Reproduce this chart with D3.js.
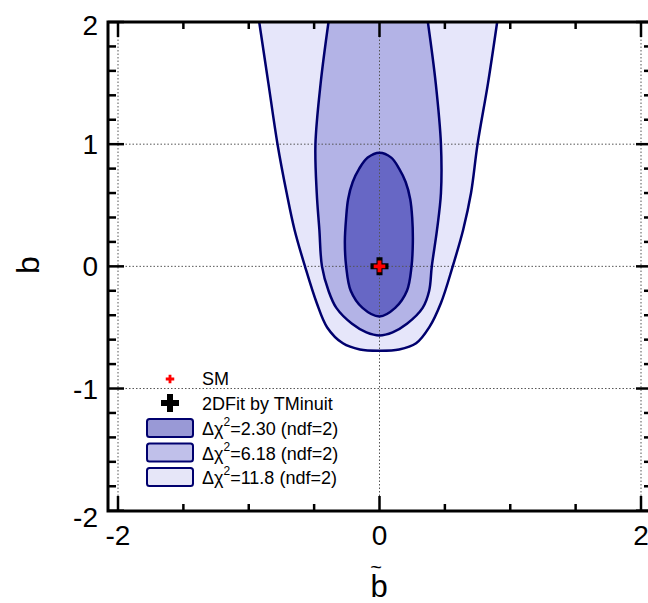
<!DOCTYPE html>
<html>
<head>
<meta charset="utf-8">
<script src="https://cdn.jsdelivr.net/npm/d3@7"></script>
<style>
  body { margin: 0; background: #fff; }
  text { font-family: 'Liberation Sans', Arial, sans-serif; }
</style>
</head>
<body>
<div id="chart"></div>
<script>
// contour points, [btilde, b]
const contour118 = [
  [-0.92, 2.0], [-0.85, 1.5], [-0.78, 1.0], [-0.71, 0.6], [-0.65, 0.3],
  [-0.57, 0.0], [-0.48, -0.3], [-0.40, -0.5], [-0.28, -0.63], [-0.15, -0.68],
  [0, -0.69], [0.15, -0.68], [0.28, -0.63], [0.38, -0.5], [0.47, -0.3],
  [0.56, 0.0], [0.64, 0.3], [0.70, 0.6], [0.75, 1.0], [0.83, 1.5], [0.90, 2.0]
]
const contour618 = [
  [-0.39, 2.0], [-0.45, 1.5], [-0.49, 1.0], [-0.48, 0.6], [-0.46, 0.3],
  [-0.44, 0.0], [-0.39, -0.2], [-0.33, -0.34], [-0.21, -0.47], [-0.1, -0.54],
  [0, -0.565], [0.1, -0.54], [0.21, -0.47], [0.33, -0.34], [0.38, -0.2],
  [0.40, 0.0], [0.44, 0.3], [0.47, 0.6], [0.47, 1.0], [0.43, 1.5], [0.37, 2.0]
]
const contour230 = [
  [0, 0.93], [0.09, 0.89], [0.15, 0.8], [0.2, 0.69], [0.235, 0.55],
  [0.25, 0.4], [0.255, 0.2], [0.245, 0.0], [0.21, -0.2], [0.12, -0.34],
  [0, -0.41], [-0.13, -0.34], [-0.22, -0.2], [-0.255, 0.0], [-0.265, 0.2],
  [-0.255, 0.4], [-0.24, 0.55], [-0.205, 0.69], [-0.155, 0.8], [-0.09, 0.89]
]
const smPoint = [0, 0]
const fitPoint = [0, 0]

const xMajor = [-2, 0, 2]
const xMinor = [-1.5, -1, -0.5, 0.5, 1, 1.5]
const yMajor = [-2, -1, 0, 1, 2]
const yMinor = [-1.8, -1.6, -1.4, -1.2, -0.8, -0.6, -0.4, -0.2,
  0.2, 0.4, 0.6, 0.8, 1.2, 1.4, 1.6, 1.8]
const xGrid = [-2, 0, 2]
const yGrid = [-1, 0, 1]

const legendLevels = ['2.30', '6.18', '11.8']

const width = 648
const height = 603
const frame = { left: 108, right: 652, top: 22, bottom: 511 }

const svg = d3
  .select('#chart')
  .append('svg')
  .attr('width', width)
  .attr('height', height)

svg.append('rect').attr('width', width).attr('height', height).attr('fill', '#fff')

const xScale = d3.scaleLinear().domain([-2, 2]).range([118, 641])
const yScale = d3.scaleLinear().domain([-2, 2]).range([510.7, 22])

svg
  .append('clipPath')
  .attr('id', 'plot-clip')
  .append('rect')
  .attr('x', frame.left)
  .attr('y', frame.top)
  .attr('width', frame.right - frame.left)
  .attr('height', frame.bottom - frame.top)

const plot = svg.append('g').attr('clip-path', 'url(#plot-clip)')

const openLine = d3
  .line()
  .x(d => xScale(d[0]))
  .y(d => yScale(d[1]))
  .curve(d3.curveCatmullRom)

const closedLine = d3
  .line()
  .x(d => xScale(d[0]))
  .y(d => yScale(d[1]))
  .curve(d3.curveCatmullRomClosed)

const outline = '#00006e'

// fills
plot.append('path').attr('d', openLine(contour118) + 'Z').attr('fill', '#e6e6fa')
plot.append('path').attr('d', openLine(contour618) + 'Z').attr('fill', '#b3b3e6')
plot.append('path').attr('d', closedLine(contour230)).attr('fill', '#6767c5')

// grid
plot
  .selectAll('.vgrid')
  .data(xGrid)
  .enter()
  .append('line')
  .attr('x1', d => xScale(d))
  .attr('x2', d => xScale(d))
  .attr('y1', frame.top)
  .attr('y2', frame.bottom)
  .attr('stroke', '#555')
  .attr('stroke-width', 1)
  .attr('stroke-dasharray', '1.5,2')

plot
  .selectAll('.hgrid')
  .data(yGrid)
  .enter()
  .append('line')
  .attr('x1', frame.left)
  .attr('x2', frame.right)
  .attr('y1', d => yScale(d))
  .attr('y2', d => yScale(d))
  .attr('stroke', '#555')
  .attr('stroke-width', 1)
  .attr('stroke-dasharray', '1.5,2')

// outlines
plot.append('path').attr('d', openLine(contour118)).attr('fill', 'none')
  .attr('stroke', outline).attr('stroke-width', 2.5)
plot.append('path').attr('d', openLine(contour618)).attr('fill', 'none')
  .attr('stroke', outline).attr('stroke-width', 2.5)
plot.append('path').attr('d', closedLine(contour230)).attr('fill', 'none')
  .attr('stroke', outline).attr('stroke-width', 2.5)

// markers
const bigCross = d3.symbol().type(d3.symbolCross).size(180)
const smallCross = d3.symbol().type(d3.symbolCross).size(75)
const tinyCross = d3.symbol().type(d3.symbolCross).size(40)

plot
  .append('path')
  .attr('d', bigCross())
  .attr('transform', 'translate(' + xScale(fitPoint[0]) + ',' + yScale(fitPoint[1]) + ')')
  .attr('fill', '#000')
plot
  .append('path')
  .attr('d', smallCross())
  .attr('transform', 'translate(' + xScale(smPoint[0]) + ',' + yScale(smPoint[1]) + ')')
  .attr('fill', '#ff0000')

// frame and ticks
svg
  .append('rect')
  .attr('x', frame.left)
  .attr('y', frame.top)
  .attr('width', frame.right - frame.left)
  .attr('height', frame.bottom - frame.top)
  .attr('fill', 'none')
  .attr('stroke', '#000')
  .attr('stroke-width', 3)

function xTicks(values, len) {
  values.forEach(v => {
    svg.append('line')
      .attr('x1', xScale(v)).attr('x2', xScale(v))
      .attr('y1', frame.bottom).attr('y2', frame.bottom - len)
      .attr('stroke', '#000').attr('stroke-width', 2.5)
    svg.append('line')
      .attr('x1', xScale(v)).attr('x2', xScale(v))
      .attr('y1', frame.top).attr('y2', frame.top + len)
      .attr('stroke', '#000').attr('stroke-width', 2.5)
  })
}
xTicks(xMajor, 15)
xTicks(xMinor, 7)

function yTicks(values, len) {
  values.forEach(v => {
    svg.append('line')
      .attr('x1', frame.left).attr('x2', frame.left + len)
      .attr('y1', yScale(v)).attr('y2', yScale(v))
      .attr('stroke', '#000').attr('stroke-width', 2.5)
    svg.append('line')
      .attr('x1', frame.right).attr('x2', frame.right - len)
      .attr('y1', yScale(v)).attr('y2', yScale(v))
      .attr('stroke', '#000').attr('stroke-width', 2.5)
  })
}
yTicks(yMajor, 16)
yTicks(yMinor, 8)

// tick labels
svg
  .selectAll('.xlabel')
  .data(xMajor)
  .enter()
  .append('text')
  .attr('x', d => xScale(d))
  .attr('y', 545)
  .attr('text-anchor', 'middle')
  .attr('font-size', 28)
  .text(d => d)

const yLabelShift = { '2': 3, '-2': 6 }
svg
  .selectAll('.ylabel')
  .data(yMajor)
  .enter()
  .append('text')
  .attr('x', 98)
  .attr('y', d => yScale(d) + 10 + (yLabelShift[d] || 0))
  .attr('text-anchor', 'end')
  .attr('font-size', 28)
  .text(d => d)

// axis titles
svg.append('text')
  .attr('x', 379)
  .attr('y', 597)
  .attr('text-anchor', 'middle')
  .attr('font-size', 31)
  .text('b')
svg.append('text')
  .attr('x', 376)
  .attr('y', 574)
  .attr('text-anchor', 'middle')
  .attr('font-size', 20)
  .text('~')

svg.append('text')
  .attr('transform', 'translate(39,265) rotate(-90)')
  .attr('text-anchor', 'middle')
  .attr('font-size', 32)
  .text('b')

// legend
const legend = svg.append('g')
legend.append('path')
  .attr('d', tinyCross())
  .attr('transform', 'translate(170,379)')
  .attr('fill', '#ff0000')
legend.append('text').attr('x', 202).attr('y', 385).attr('font-size', 18).text('SM')

legend.append('path')
  .attr('d', bigCross())
  .attr('transform', 'translate(170,403)')
  .attr('fill', '#000')
legend.append('text').attr('x', 202).attr('y', 410).attr('font-size', 18).text('2DFit by TMinuit')

const boxColors = ['#9999d6', '#c0c0ea', '#e6e6f8']
legendLevels.forEach((lvl, i) => {
  const y0 = 419 + i * 24.5
  legend.append('rect')
    .attr('x', 147).attr('y', y0)
    .attr('width', 46).attr('height', 18)
    .attr('rx', 2.5)
    .attr('fill', boxColors[i])
    .attr('stroke', outline)
    .attr('stroke-width', 2)
  const t = legend.append('text').attr('x', 202).attr('y', y0 + 16).attr('font-size', 18)
  t.append('tspan').text('\u0394\u03c7')
  t.append('tspan').attr('dy', -9).attr('font-size', 12).text('2')
  t.append('tspan').attr('dy', 9).text('=' + lvl + ' (ndf=2)')
})
</script>
</body>
</html>
